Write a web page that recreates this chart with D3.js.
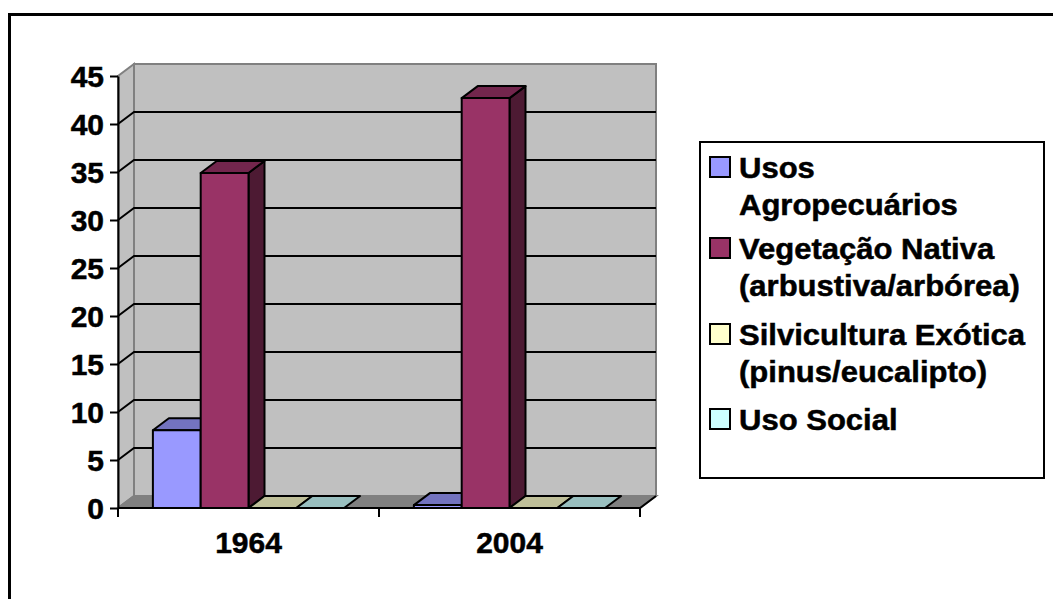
<!DOCTYPE html>
<html>
<head>
<meta charset="utf-8">
<script src="https://cdn.jsdelivr.net/npm/d3@7"></script>
<style>
  body { margin: 0; background: #fff; }
  text { font-family: "Liberation Sans", Arial, sans-serif; font-weight: bold; fill: #000;
         stroke: #000; stroke-width: 0.5px; }
</style>
</head>
<body>
<div id="chart"></div>
<script>
// data
const categories = ['1964', '2004'];
const seriesNames = ['Usos Agropecuários', 'Vegetação Nativa (arbustiva/arbórea)',
  'Silvicultura Exótica (pinus/eucalipto)', 'Uso Social'];
const legendLines = [['Usos', 'Agropecuários'], ['Vegetação Nativa', '(arbustiva/arbórea)'],
  ['Silvicultura Exótica', '(pinus/eucalipto)'], ['Uso Social']];
const usosAgro = [8.1, 0.3];
const vegetacao = [34.9, 42.7];
const silvicultura = [0, 0];
const usoSocial = [0, 0];
const yTicks = [0, 5, 10, 15, 20, 25, 30, 35, 40, 45];
const colors = ['#9999ff', '#993366', '#ffffcc', '#ccffff'];

const series = [usosAgro, vegetacao, silvicultura, usoSocial];

const W = 1053, H = 599;
// 3d depth offset of walls and bars
const dx = 16, dy = -12;

const svg = d3.select('#chart').append('svg')
  .attr('width', W).attr('height', H);

const x0 = d3.scaleBand().domain(categories).range([118, 640]);
const x1 = d3.scaleBand().domain(d3.range(seriesNames.length))
  .range([0, x0.bandwidth()]).paddingInner(0).paddingOuter(0.73);
const y = d3.scaleLinear().domain([0, 45]).range([508, 76]);

const left = x0.range()[0], right = x0.range()[1];
const pts = a => a.map(p => p.join(',')).join(' ');

// left side wall
svg.append('polygon')
  .attr('points', pts([[left, y(0)], [left + dx, y(0) + dy], [left + dx, y(45) + dy], [left, y(45)]]))
  .attr('fill', '#c0c0c0').attr('stroke', '#808080').attr('stroke-width', 2);

// back wall
svg.append('rect')
  .attr('x', left + dx).attr('y', y(45) + dy)
  .attr('width', right - left).attr('height', y(0) - y(45))
  .attr('fill', '#c0c0c0').attr('stroke', '#808080').attr('stroke-width', 2);

// gridlines on the back wall and the side wall
const grid = yTicks.filter(t => t > 0 && t < 45);
svg.selectAll('.grid').data(grid).enter().append('polyline')
  .attr('points', t => pts([[left, y(t)], [left + dx, y(t) + dy], [right + dx, y(t) + dy]]))
  .attr('fill', 'none').attr('stroke', '#000').attr('stroke-width', 2);

// floor
svg.append('polygon')
  .attr('points', pts([[left, y(0)], [right, y(0)], [right + dx, y(0) + dy], [left + dx, y(0) + dy]]))
  .attr('fill', '#808080').attr('stroke', '#808080').attr('stroke-width', 2);
svg.append('polyline')
  .attr('points', pts([[left, y(0)], [right, y(0)], [right + dx, y(0) + dy]]))
  .attr('fill', 'none').attr('stroke', '#000').attr('stroke-width', 2);

// bars, drawn left to right
const shade = (c, k) => {
  const r = d3.rgb(c);
  return d3.rgb(r.r * k, r.g * k, r.b * k).formatHex();
};
categories.forEach((cat, ci) => {
  series.forEach((vals, si) => {
    const v = vals[ci];
    const xa = x0(cat) + x1(si), xb = xa + x1.bandwidth();
    const yb = y(0), yt = y(v);
    const g = svg.append('g')
      .attr('stroke', '#000').attr('stroke-width', 2).attr('stroke-linejoin', 'round');
    if (v > 0) {
      g.append('polygon')
        .attr('points', pts([[xb, yb], [xb + dx, yb + dy], [xb + dx, yt + dy], [xb, yt]]))
        .attr('fill', shade(colors[si], 0.5));
    }
    g.append('polygon')
      .attr('points', pts([[xa, yt], [xb, yt], [xb + dx, yt + dy], [xa + dx, yt + dy]]))
      .attr('fill', shade(colors[si], 0.75));
    if (v > 0) {
      g.append('rect')
        .attr('x', xa).attr('y', yt).attr('width', xb - xa).attr('height', yb - yt)
        .attr('fill', colors[si]);
    }
  });
});

// y axis
const yAxis = svg.append('g')
  .attr('transform', `translate(${left},0)`)
  .call(d3.axisLeft(y).tickValues(yTicks).tickSize(8).tickSizeOuter(0).tickPadding(6));
yAxis.select('.domain').attr('stroke', '#000').attr('stroke-width', 2);
yAxis.selectAll('.tick line').attr('stroke', '#000').attr('stroke-width', 2);
yAxis.selectAll('.tick text')
  .style('font-family', '"Liberation Sans", Arial, sans-serif')
  .style('font-weight', 'bold').attr('font-size', 30).attr('dy', '0.36em');

// category boundary ticks
const bounds = categories.map(c => x0(c)).concat([right]);
svg.selectAll('.xtick').data(bounds).enter().append('line')
  .attr('x1', d => d).attr('x2', d => d)
  .attr('y1', y(0)).attr('y2', y(0) + 9)
  .attr('stroke', '#000').attr('stroke-width', 2);

// category labels
const xAxis = svg.append('g')
  .attr('transform', `translate(0,${y(0)})`)
  .call(d3.axisBottom(x0).tickSize(0).tickPadding(24));
xAxis.select('.domain').remove();
xAxis.selectAll('.tick text')
  .style('font-family', '"Liberation Sans", Arial, sans-serif')
  .style('font-weight', 'bold').attr('font-size', 30).attr('dy', '0.71em');

// legend
svg.append('rect')
  .attr('x', 700).attr('y', 142).attr('width', 344).attr('height', 336)
  .attr('fill', '#fff').attr('stroke', '#000').attr('stroke-width', 2);

const legendBase = [178, 259, 345, 430];
legendLines.forEach((lines, i) => {
  const b = legendBase[i];
  svg.append('rect')
    .attr('x', 710).attr('y', b - 21).attr('width', 20).attr('height', 20)
    .attr('fill', colors[i]).attr('stroke', '#000').attr('stroke-width', 2);
  lines.forEach((line, j) => {
    svg.append('text')
      .attr('transform', `translate(739,${b + j * 37}) scale(1.07,1)`)
      .attr('font-size', 29)
      .text(line);
  });
});

// outer border of the chart area
svg.append('rect')
  .attr('x', 9.5).attr('y', 14.5).attr('width', W).attr('height', H)
  .attr('fill', 'none').attr('stroke', '#000').attr('stroke-width', 3);
</script>
</body>
</html>
